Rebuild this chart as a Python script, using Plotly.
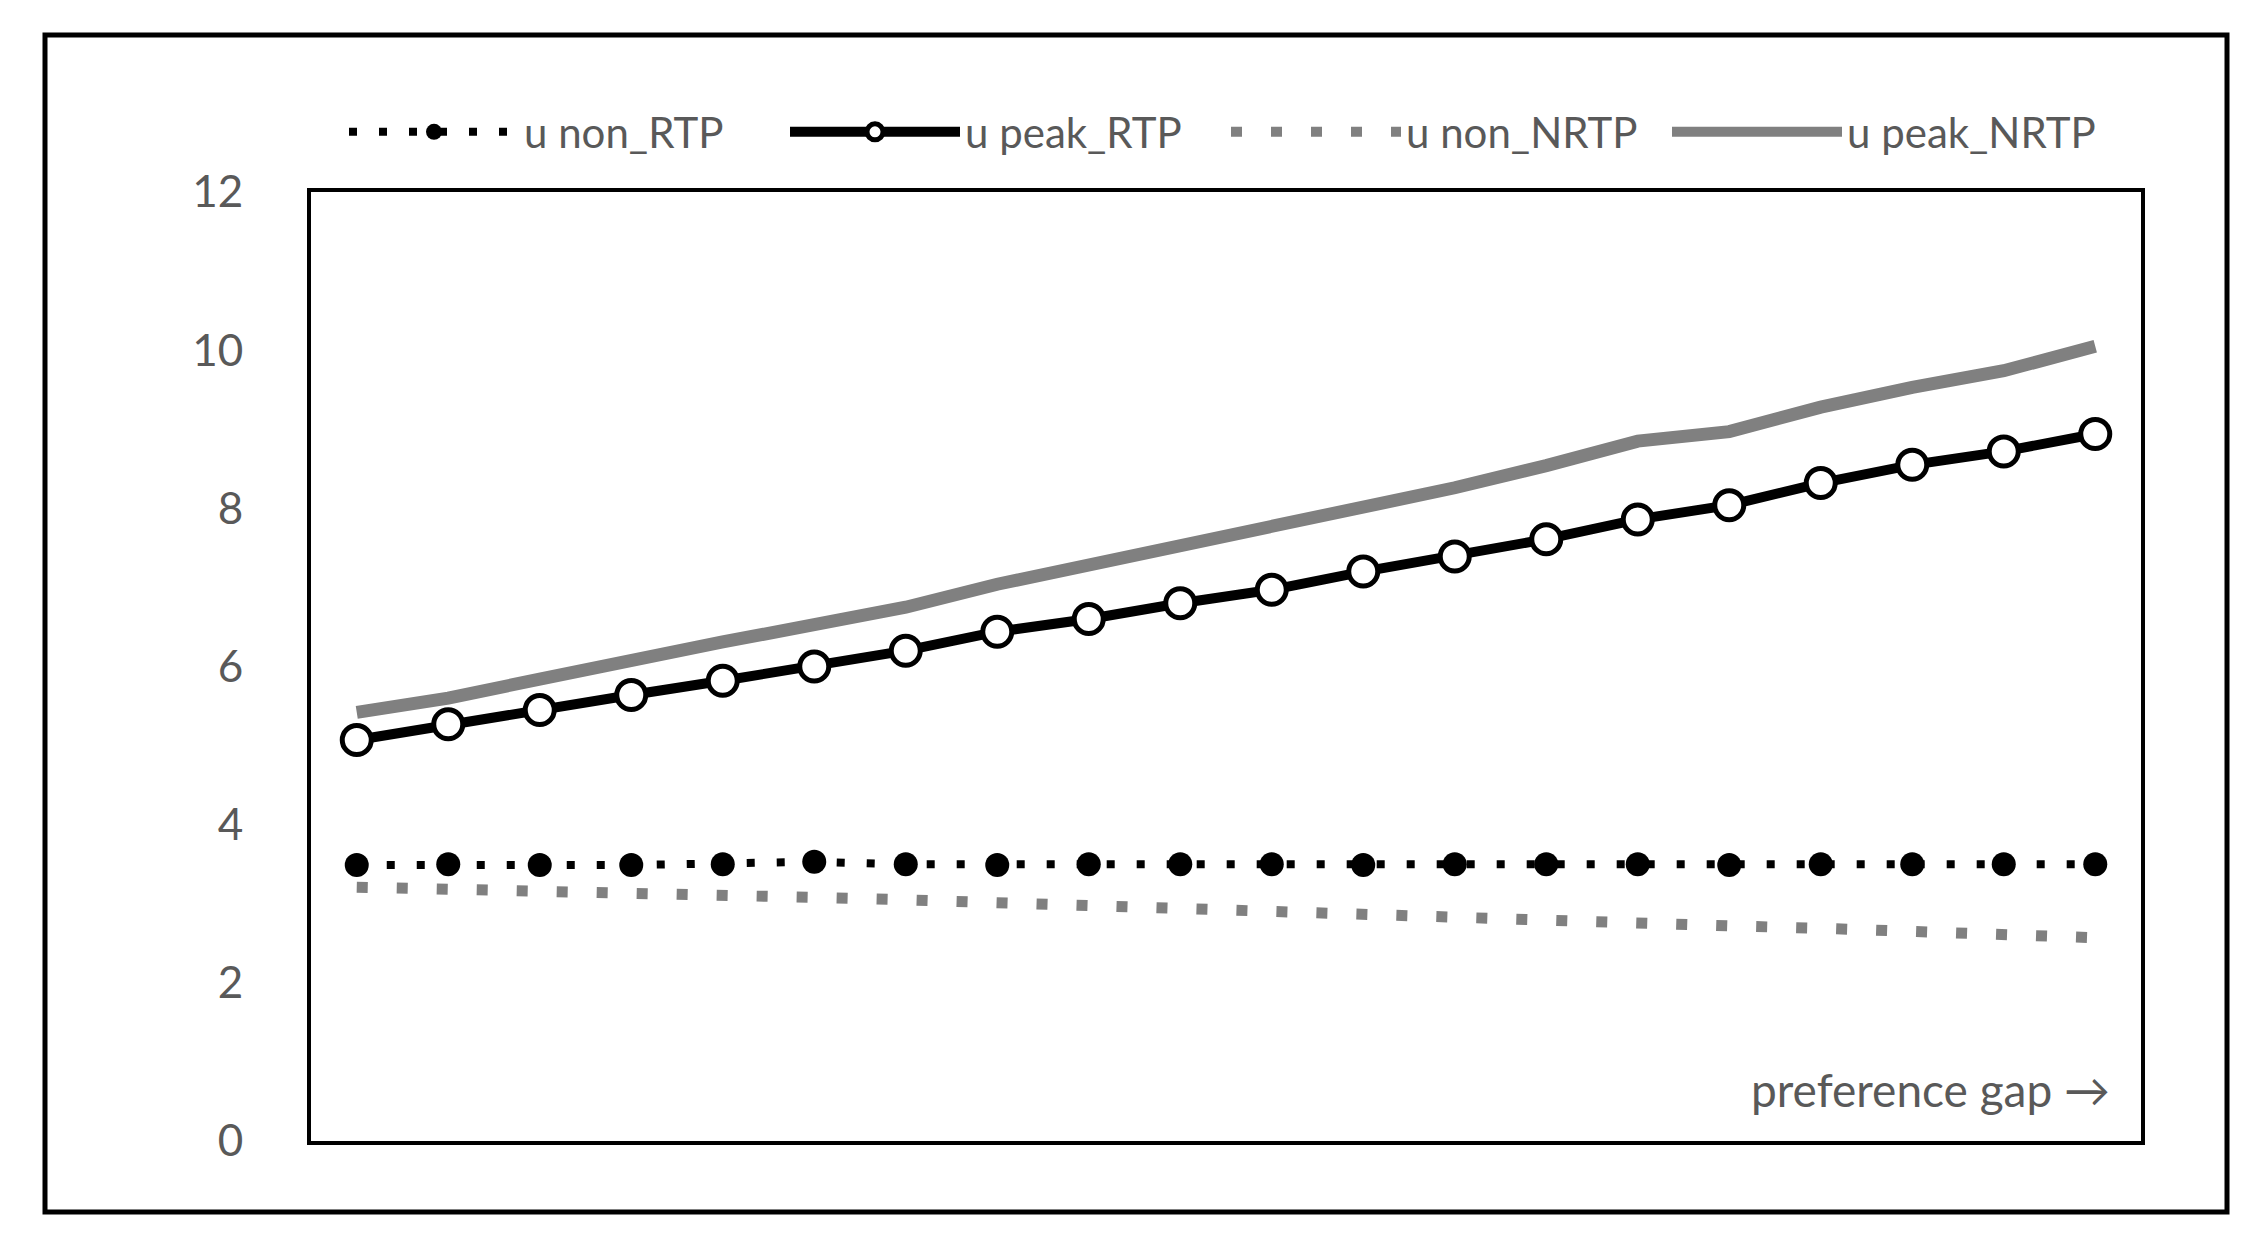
import plotly.graph_objects as go

# categories along the (unlabelled) preference-gap axis
gap_steps = list(range(1, 21))

u_non_rtp = [3.49, 3.50, 3.49, 3.49, 3.50, 3.53, 3.50, 3.49, 3.50, 3.50,
             3.50, 3.49, 3.50, 3.50, 3.50, 3.49, 3.50, 3.50, 3.50, 3.50]
u_peak_rtp = [5.07, 5.27, 5.45, 5.64, 5.82, 6.00, 6.20, 6.44, 6.60, 6.80,
              6.97, 7.20, 7.39, 7.61, 7.86, 8.04, 8.32, 8.55, 8.72, 8.94]
u_non_nrtp = [3.21, 3.19, 3.16, 3.13, 3.11, 3.08, 3.05, 3.01, 2.98, 2.94,
              2.90, 2.87, 2.83, 2.80, 2.76, 2.72, 2.69, 2.65, 2.61, 2.57]
u_peak_nrtp = [5.42, 5.60, 5.84, 6.09, 6.31, 6.53, 6.75, 7.04, 7.28, 7.53,
               7.77, 8.02, 8.26, 8.54, 8.85, 8.97, 9.28, 9.53, 9.74, 10.05]

y_ticks = [0, 2, 4, 6, 8, 10, 12]

GREY = "#808080"
TEXT = "#595959"
FONT = "Lato"

W, H = 2260, 1242
ML, MR, MT, MB = 303, 127, 184, 109

fig = go.Figure()

# thick grey line first so the circles sit on top of it
fig.add_trace(go.Scatter(
    x=gap_steps, y=u_peak_nrtp, name="u peak_NRTP", mode="lines",
    line=dict(color=GREY, width=13), legendrank=4,
))
fig.add_trace(go.Scatter(
    x=gap_steps, y=u_non_rtp, name="u non_RTP", mode="lines+markers",
    line=dict(color="black", width=8, dash="8px,22px"),
    marker=dict(size=24, color="black"), legendrank=1,
))
fig.add_trace(go.Scatter(
    x=gap_steps, y=u_peak_rtp, name="u peak_RTP", mode="lines+markers",
    line=dict(color="black", width=10),
    marker=dict(size=29, color="white", line=dict(color="black", width=5)),
    legendrank=2,
))
fig.add_trace(go.Scatter(
    x=gap_steps, y=u_non_nrtp, name="u non_NRTP", mode="lines",
    line=dict(color=GREY, width=11, dash="11px,29px"), legendrank=3,
))

pw = W - ML - MR
ph = H - MT - MB

fig.update_layout(
    width=W, height=H,
    margin=dict(l=ML, r=MR, t=MT, b=MB),
    paper_bgcolor="white", plot_bgcolor="white",
    font=dict(family=FONT, size=44, color=TEXT),
    showlegend=True,
    legend=dict(
        orientation="h", x=0.5, xanchor="center", y=1 + 60 / ph, yanchor="middle",
        font=dict(family=FONT, size=42, color=TEXT),
        itemwidth=170, entrywidth=256, traceorder="normal",
        bgcolor="rgba(0,0,0,0)",
    ),
    xaxis=dict(
        range=[0.5, 20.5], showticklabels=False, ticks="", showgrid=False,
        zeroline=False, showline=True, linecolor="black", linewidth=4, mirror=True,
    ),
    yaxis=dict(
        range=[0, 12], tickvals=y_ticks, ticks="", showgrid=False, zeroline=False,
        showline=True, linecolor="black", linewidth=4, mirror=True,
        ticklabelstandoff=55,
        tickfont=dict(family=FONT, size=44, color=TEXT),
    ),
)

fig.add_annotation(
    text="preference gap \u2192", xref="paper", yref="paper",
    x=1 - 29 / pw, y=52 / ph, xanchor="right", yanchor="middle",
    showarrow=False, font=dict(family=FONT, size=46, color=TEXT),
)

# outer frame around the whole chart
fig.add_shape(
    type="rect", xref="paper", yref="paper",
    x0=(37 - ML) / pw, x1=(2219 - ML) / pw,
    y0=-(1204 - MT - ph) / ph, y1=1 + (MT - 27) / ph,
    line=dict(color="black", width=5), layer="above",
)

fig.write_html("out.html")
